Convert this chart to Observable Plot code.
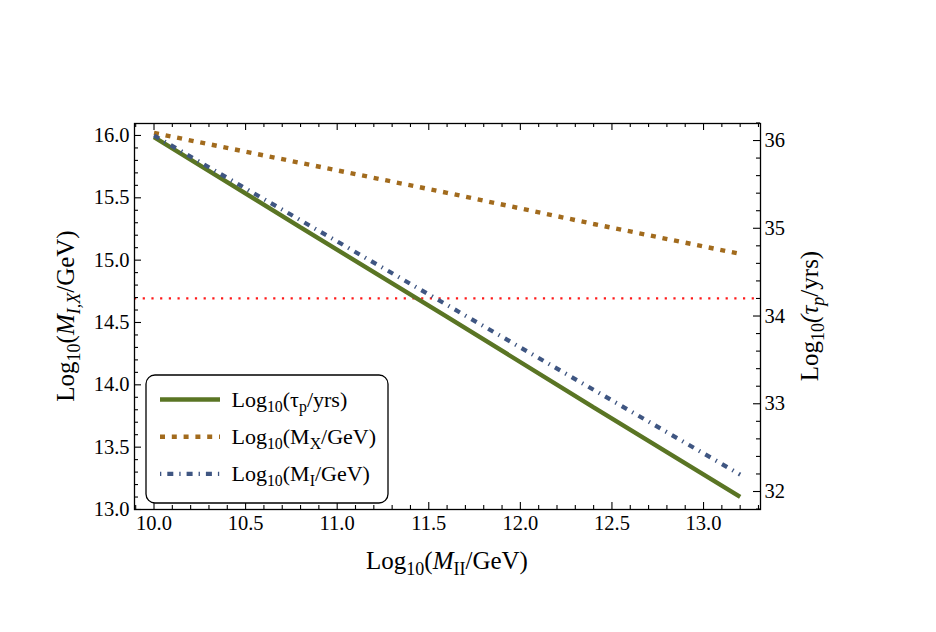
<!DOCTYPE html>
<html>
<head>
<meta charset="utf-8">
<script src="https://cdn.jsdelivr.net/npm/d3@7"></script>
<script src="https://cdn.jsdelivr.net/npm/@observablehq/plot@0.6"></script>
<style>
  body { margin: 0; background: #fff; }
  #chart { width: 936px; height: 632px; }
</style>
</head>
<body>
<div id="chart"></div>
<script>
// Log10 of the intermediate scale M_II (GeV)
const logMII = [10.0, 10.8, 11.6, 12.4, 13.2];
// Log10 of proton lifetime (years), right axis
const logTauP = [36.04, 35.01, 33.99, 32.96, 31.94];
// Log10 of unification scale M_X (GeV), left axis
const logMX = [16.02, 15.78, 15.54, 15.29, 15.05];
// Log10 of intermediate scale M_I (GeV), left axis
const logMI = [16.00, 15.32, 14.64, 13.96, 13.28];
// experimental lower bound on Log10(tau_p / yrs)
const tauBound = 34.2;

const xTicks = [10.0, 10.5, 11.0, 11.5, 12.0, 12.5, 13.0];
const leftTicks = [13.0, 13.5, 14.0, 14.5, 15.0, 15.5, 16.0];
const rightTicks = [32, 33, 34, 35, 36];

const xDomain = [9.8935, 13.311];
const leftDomain = [13.0, 16.096];
const rightDomain = [31.795, 36.194];

const colors = { tau: "#5a7524", mx: "#a26b1d", mi: "#3f5682", bound: "#ff1a1a" };

const W = 936, H = 632;
const M = { top: 123, right: 176, bottom: 123, left: 134 };
const frameW = W - M.left - M.right;
const frameH = H - M.top - M.bottom;
const major = 7, minor = 4;

// map a right-axis value onto the shared (left) vertical scale
const k = (leftDomain[1] - leftDomain[0]) / (rightDomain[1] - rightDomain[0]);
const toLeft = r => leftDomain[0] + (r - rightDomain[0]) * k;
const toRight = l => rightDomain[0] + (l - leftDomain[0]) / k;

const near = (a, b) => Math.abs(a - b) < 1e-6;
const xMinor = d3.range(99, 134).map(i => i / 10).filter(v => !xTicks.some(t => near(t, v)));
const leftMinor = d3.range(130, 161).map(i => i / 10).filter(v => !leftTicks.some(t => near(t, v)));
const rightMinor = d3.range(159, 182).map(i => i / 5).filter(v => !rightTicks.some(t => near(t, v)));

const rows = logMII.map((x, i) => ({ x, tau: toLeft(logTauP[i]), mx: logMX[i], mi: logMI[i] }));

const tick = { stroke: "black", strokeWidth: 1.1 };
const lineStyle = { strokeLinecap: "butt", strokeLinejoin: "miter" };

const plot = Plot.plot({
  width: W,
  height: H,
  marginTop: M.top,
  marginRight: M.right,
  marginBottom: M.bottom,
  marginLeft: M.left,
  style: { fontFamily: "'Liberation Serif', serif", fontSize: "20.5px", color: "black", background: "white" },
  x: { domain: xDomain, axis: null },
  y: { domain: leftDomain, axis: null },
  marks: [
    Plot.ruleY([toLeft(tauBound)], { stroke: colors.bound, strokeWidth: 2.2, strokeDasharray: "2.2,6.5" }),
    Plot.line(rows, { x: "x", y: "tau", stroke: colors.tau, strokeWidth: 4.4, ...lineStyle }),
    Plot.line(rows, { x: "x", y: "mx", stroke: colors.mx, strokeWidth: 4.4, strokeDasharray: "5,6.8", ...lineStyle }),
    Plot.line(rows, { x: "x", y: "mi", stroke: colors.mi, strokeWidth: 4.2, strokeDasharray: "6,6,1.3,6", ...lineStyle }),
    // inward ticks, bottom and top
    Plot.tickX(xTicks, { x: d => d, insetTop: frameH - major, ...tick }),
    Plot.tickX(xMinor, { x: d => d, insetTop: frameH - minor, ...tick }),
    Plot.tickX(xTicks, { x: d => d, insetBottom: frameH - major, ...tick }),
    Plot.tickX(xMinor, { x: d => d, insetBottom: frameH - minor, ...tick }),
    // inward ticks, left axis
    Plot.tickY(leftTicks, { y: d => d, insetRight: frameW - major, ...tick }),
    Plot.tickY(leftMinor, { y: d => d, insetRight: frameW - minor, ...tick }),
    // inward ticks, right axis
    Plot.tickY(rightTicks.map(toLeft), { y: d => d, insetLeft: frameW - major, ...tick }),
    Plot.tickY(rightMinor.map(toLeft), { y: d => d, insetLeft: frameW - minor, ...tick }),
    Plot.axisX(xTicks, { anchor: "bottom", tickSize: 0, tickPadding: 6, tickFormat: d3.format(".1f"), label: null }),
    Plot.axisY(leftTicks, { anchor: "left", tickSize: 0, tickPadding: 5, tickFormat: d3.format(".1f"), label: null }),
    Plot.axisY(rightTicks.map(toLeft), { anchor: "right", tickSize: 0, tickPadding: 4, tickFormat: d => String(Math.round(toRight(d))), label: null }),
    Plot.frame({ stroke: "black", strokeWidth: 1.3 })
  ]
});

document.getElementById("chart").append(plot);

const svg = d3.select(plot);

// rich text with subscripts and italics
function richText(parent, parts, size, anchor) {
  const t = parent.append("text").attr("font-size", size).attr("fill", "black")
    .attr("text-anchor", anchor)
    .attr("font-family", "'Liberation Serif', serif");
  let shift = 0;
  for (const p of parts) {
    const target = p.sub ? size * 0.22 : 0;
    const ts = t.append("tspan").text(p.t).attr("dy", target - shift);
    shift = target;
    if (p.sub) ts.attr("font-size", size * 0.72);
    if (p.it) ts.attr("font-style", "italic");
  }
  return t;
}

// axis titles
const titleSize = 25;
richText(svg, [{ t: "Log" }, { t: "10", sub: 1 }, { t: "(" }, { t: "M", it: 1 }, { t: "II", sub: 1 }, { t: "/GeV)" }], titleSize, "middle")
  .attr("transform", `translate(${M.left + frameW / 2},569)`);
richText(svg, [{ t: "Log" }, { t: "10", sub: 1 }, { t: "(" }, { t: "M", it: 1 }, { t: "I,X", sub: 1, it: 1 }, { t: "/GeV)" }], titleSize, "middle")
  .attr("transform", `translate(74,${M.top + frameH / 2}) rotate(-90)`);
richText(svg, [{ t: "Log" }, { t: "10", sub: 1 }, { t: "(τ", it: 1 }, { t: "p", sub: 1, it: 1 }, { t: "/yrs)" }], titleSize, "middle")
  .attr("transform", `translate(818,${M.top + frameH / 2}) rotate(-90)`);

// legend
const legendItems = [
  { parts: [{ t: "Log" }, { t: "10", sub: 1 }, { t: "(τ" }, { t: "p", sub: 1 }, { t: "/yrs)" }], color: colors.tau, width: 4.4, dash: null },
  { parts: [{ t: "Log" }, { t: "10", sub: 1 }, { t: "(M" }, { t: "X", sub: 1 }, { t: "/GeV)" }], color: colors.mx, width: 4.4, dash: "5,6.8" },
  { parts: [{ t: "Log" }, { t: "10", sub: 1 }, { t: "(M" }, { t: "I", sub: 1 }, { t: "/GeV)" }], color: colors.mi, width: 4.2, dash: "1.3,6,6,6" }
];
const lg = svg.append("g").attr("transform", "translate(146,375)");
lg.append("rect").attr("width", 242).attr("height", 128).attr("rx", 9)
  .attr("fill", "white").attr("stroke", "black").attr("stroke-width", 1.3);
legendItems.forEach((item, i) => {
  const cy = 24.5 + i * 37.2;
  lg.append("line").attr("x1", 14).attr("x2", 74).attr("y1", cy).attr("y2", cy)
    .attr("stroke", item.color).attr("stroke-width", item.width)
    .attr("stroke-dasharray", item.dash);
  richText(lg, item.parts, 22, "start").attr("transform", `translate(85.5,${cy + 7.5})`);
});
</script>
</body>
</html>
